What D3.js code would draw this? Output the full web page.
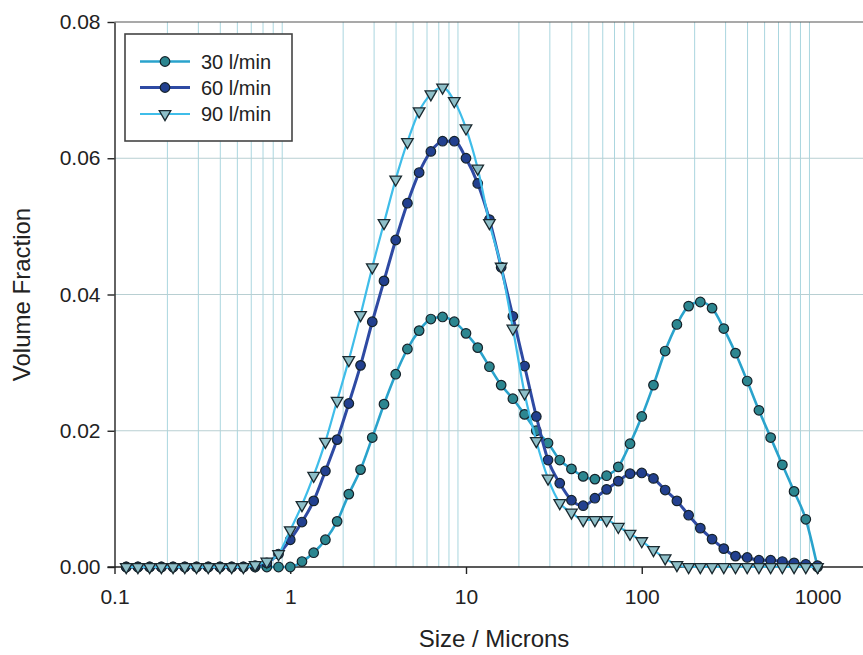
<!DOCTYPE html>
<html>
<head>
<meta charset="utf-8">
<script src="https://cdn.jsdelivr.net/npm/d3@7"></script>
<style>
  html, body { margin: 0; padding: 0; background: #fff; }
  svg { display: block; font-family: "Liberation Sans", Arial, sans-serif; }
</style>
</head>
<body>
<svg id="chart" width="863" height="655"></svg>
<script>
// Particle size bins (microns), log spaced at 15 bins per decade
const sizes = [
  0.1166, 0.1359, 0.1585, 0.1848, 0.2154, 0.2512, 0.2929, 0.3415, 0.3981, 0.4642,
  0.5412, 0.6310, 0.7356, 0.8577,
  1, 1.166, 1.359, 1.585, 1.848, 2.154, 2.512, 2.929, 3.415, 3.981, 4.642,
  5.412, 6.310, 7.356, 8.577,
  10, 11.66, 13.59, 15.85, 18.48, 21.54, 25.12, 29.29, 34.15, 39.81, 46.42,
  54.12, 63.10, 73.56, 85.77,
  100, 116.6, 135.9, 158.5, 184.8, 215.4, 251.2, 292.9, 341.5, 398.1, 464.2,
  541.2, 631.0, 735.6, 857.7, 1000
];

// Volume fraction per bin, one array per flow rate
const flow30 = [
  0, 0, 0, 0, 0, 0, 0, 0, 0, 0, 0, 0, 0, 0,
  0, 0.0008, 0.0021, 0.0040, 0.0067, 0.0107, 0.0143, 0.0190, 0.0239, 0.0283, 0.0320,
  0.0347, 0.0364, 0.0367, 0.0360,
  0.0343, 0.0322, 0.0294, 0.0267, 0.0247, 0.0224, 0.0200, 0.0182, 0.0157, 0.0144, 0.0133,
  0.0129, 0.0134, 0.0147, 0.0181,
  0.0221, 0.0267, 0.0317, 0.0356, 0.0383, 0.0389, 0.0380, 0.0350, 0.0314, 0.0273, 0.0230,
  0.0190, 0.0150, 0.0111, 0.0070, 0
];

const flow60 = [
  0, 0, 0, 0, 0, 0, 0, 0, 0, 0, 0, 0.0002, 0.0006, 0.0019,
  0.0040, 0.0066, 0.0097, 0.0141, 0.0187, 0.0240, 0.0296, 0.0360, 0.0420, 0.0480, 0.0534,
  0.0579, 0.0610, 0.0625, 0.0625,
  0.0600, 0.0563, 0.0510, 0.0440, 0.0368, 0.0295, 0.0221, 0.0157, 0.0123, 0.0098, 0.0090,
  0.0101, 0.0114, 0.0126, 0.0137,
  0.0138, 0.0130, 0.0113, 0.0097, 0.0076, 0.0057, 0.0041, 0.0027, 0.0016, 0.0014, 0.0010,
  0.0010, 0.0008, 0.0006, 0.0004, 0.0002
];

const flow90 = [
  0, 0, 0, 0, 0, 0, 0, 0, 0, 0, 0, 0.0003, 0.0008, 0.0019,
  0.0054, 0.0091, 0.0134, 0.0184, 0.0244, 0.0304, 0.0370, 0.0440, 0.0505, 0.0569, 0.0624,
  0.0669, 0.0694, 0.0704, 0.0684,
  0.0644, 0.0585, 0.0505, 0.0441, 0.0350, 0.0255, 0.0185, 0.0130, 0.0094, 0.0080, 0.0069,
  0.0069, 0.0069, 0.0059, 0.0049,
  0.0038, 0.0025, 0.0013, 0.0003, 0, 0, 0, 0, 0, 0, 0,
  0, 0, 0, 0, 0
];

const seriesNames = ["30 l/min", "60 l/min", "90 l/min"];
const yTicks = [0, 0.02, 0.04, 0.06, 0.08];
const xTicks = [0.1, 1, 10, 100, 1000];

const svg = d3.select("#chart");
const W = 863;

const x = d3.scaleLog().domain([0.1, 1000]).range([114.5, 817.5]);
const y = d3.scaleLinear().domain([0, 0.08]).range([567, 22]);

// Minor log gridlines (2..9 of each decade) inside the visible plot
const minor = [];
for (let dec = 0.1; dec < 10000; dec *= 10) {
  for (let m = 2; m <= 9; m++) {
    const v = +(m * dec).toPrecision(3);
    if (x(v) < W) minor.push(v);
  }
}
svg.append("g").selectAll("line").data(minor).join("line")
  .attr("x1", d => x(d)).attr("x2", d => x(d))
  .attr("y1", y(0.08)).attr("y2", y(0))
  .attr("stroke", "#aad6df").attr("stroke-width", 1);

svg.append("g").selectAll("line").data([0.02, 0.04, 0.06]).join("line")
  .attr("x1", x(0.1)).attr("x2", W)
  .attr("y1", d => y(d)).attr("y2", d => y(d))
  .attr("stroke", "#b8cfd2").attr("stroke-width", 1);

// Frame top
svg.append("line")
  .attr("x1", x(0.1)).attr("x2", W).attr("y1", y(0.08)).attr("y2", y(0.08))
  .attr("stroke", "#555").attr("stroke-width", 1.2);

// Axes
const yAxis = svg.append("g").attr("transform", `translate(${x(0.1)},0)`)
  .call(d3.axisLeft(y).tickValues(yTicks).tickFormat(d3.format(".2f"))
    .tickSize(7).tickSizeOuter(0).tickPadding(7));
yAxis.selectAll("text").attr("font-size", 21).attr("fill", "#222")
  .attr("font-family", "Liberation Sans, Arial, sans-serif");
yAxis.selectAll("path, line").attr("stroke", "#222").attr("stroke-width", 1.4);

const xAxis = svg.append("g").attr("transform", `translate(0,${y(0)})`)
  .call(d3.axisBottom(x).tickValues(xTicks).tickFormat(d => String(d))
    .tickSize(7).tickSizeOuter(0).tickPadding(15));
xAxis.select(".domain").remove();
xAxis.selectAll("text").attr("font-size", 21).attr("fill", "#222")
  .attr("font-family", "Liberation Sans, Arial, sans-serif");
xAxis.selectAll("line").attr("stroke", "#222").attr("stroke-width", 1.4);
svg.append("line")
  .attr("x1", x(0.1) - 7).attr("x2", W).attr("y1", y(0)).attr("y2", y(0))
  .attr("stroke", "#222").attr("stroke-width", 1.4);

// Axis titles
svg.append("text")
  .attr("transform", `translate(30,${(y(0) + y(0.08)) / 2}) rotate(-90)`)
  .attr("text-anchor", "middle").attr("font-size", 24).attr("fill", "#222")
  .text("Volume Fraction");
svg.append("text")
  .attr("x", 494).attr("y", 647)
  .attr("text-anchor", "middle").attr("font-size", 24).attr("fill", "#222")
  .text("Size / Microns");

// Series styling
const styles = [
  { data: flow30, line: "#2aa3cc", width: 2.6, fill: "#2c8690", symbol: "circle" },
  { data: flow60, line: "#2e4aa3", width: 3, fill: "#22408f", symbol: "circle" },
  { data: flow90, line: "#3fbde9", width: 2.2, fill: "#8ebfc8", symbol: "triangle" }
];

const line = d3.line()
  .x((d, i) => x(sizes[i]))
  .y(d => y(d))
  .curve(d3.curveMonotoneX);

const circ = d3.symbol().type(d3.symbolCircle).size(72);
const tri = d3.symbol().type(d3.symbolTriangle).size(58);

function drawMarker(g, s, cx, cy) {
  if (s.symbol === "circle") {
    g.append("path").attr("d", circ())
      .attr("transform", `translate(${cx},${cy})`)
      .attr("fill", s.fill).attr("stroke", "#15222a").attr("stroke-width", 1.2);
  } else {
    g.append("path").attr("d", tri())
      .attr("transform", `translate(${cx},${cy}) rotate(180)`)
      .attr("fill", s.fill).attr("stroke", "#1b2a30").attr("stroke-width", 1.3);
  }
}

styles.forEach(s => {
  const g = svg.append("g");
  g.append("path").datum(s.data).attr("d", line)
    .attr("fill", "none").attr("stroke", s.line).attr("stroke-width", s.width)
    .attr("stroke-linejoin", "round");
  s.data.forEach((v, i) => drawMarker(g, s, x(sizes[i]), y(v)));
});

// Legend
const lg = svg.append("g");
lg.append("rect").attr("x", 125).attr("y", 34).attr("width", 167).attr("height", 107)
  .attr("fill", "#fff").attr("stroke", "#444").attr("stroke-width", 1.6);
const rowY = [61.5, 87.5, 114];
styles.forEach((s, i) => {
  lg.append("line").attr("x1", 140).attr("x2", 190)
    .attr("y1", rowY[i]).attr("y2", rowY[i])
    .attr("stroke", s.line).attr("stroke-width", s.width);
  drawMarker(lg, s, 165, rowY[i]);
  lg.append("text").attr("x", 201).attr("y", rowY[i] + 7)
    .attr("font-size", 20).attr("fill", "#222").text(seriesNames[i]);
});
</script>
</body>
</html>
